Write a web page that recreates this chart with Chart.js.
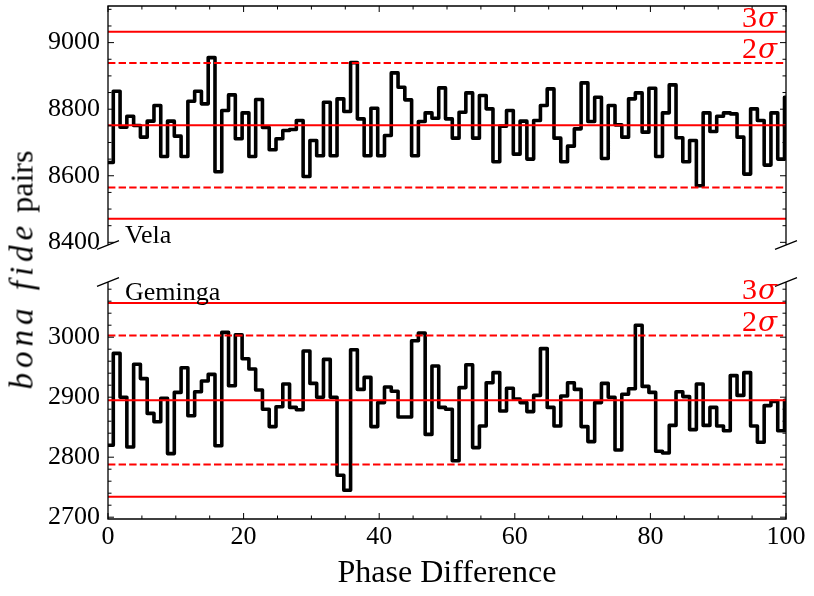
<!DOCTYPE html>
<html>
<head>
<meta charset="utf-8">
<script src="https://cdn.jsdelivr.net/npm/chart.js@4.4.1/dist/chart.umd.min.js"></script>
<style>
html, body { margin:0; padding:0; background:#fff; }
#wrap { position:relative; width:814px; height:596px; overflow:hidden; background:#fff; }
#cTop { position:absolute; left:0; top:0; }
#cBot { position:absolute; left:0; top:270px; }
#ytitle { position:absolute; left:22px; top:270px; transform: translate(-50%,-50%) rotate(-90deg);
  white-space:nowrap; font-family:"Liberation Serif", serif; font-size:32px; color:#000; line-height:1; }
#ytitle i { font-family:"Liberation Serif", serif; font-style:italic; font-size:33px; letter-spacing:5px; }
</style>
</head>
<body>
<div id="wrap">
<canvas id="cTop" width="814" height="270"></canvas>
<canvas id="cBot" width="814" height="326"></canvas>
<div id="ytitle"><i>bona fide</i> pairs</div>
</div>
<script>
// ---- data ----
const phaseEdges = [
  -0.22, 0.78, 1.78, 2.78, 3.78, 4.78, 5.78, 6.78, 7.78, 8.78,
  9.78, 10.78, 11.78, 12.78, 13.78, 14.78, 15.78, 16.78, 17.78, 18.78,
  19.78, 20.78, 21.78, 22.78, 23.78, 24.78, 25.78, 26.78, 27.78, 28.78,
  29.78, 30.78, 31.78, 32.78, 33.78, 34.78, 35.78, 36.78, 37.78, 38.78,
  39.78, 40.78, 41.78, 42.78, 43.78, 44.78, 45.78, 46.78, 47.78, 48.78,
  49.78, 50.78, 51.78, 52.78, 53.78, 54.78, 55.78, 56.78, 57.78, 58.78,
  59.78, 60.78, 61.78, 62.78, 63.78, 64.78, 65.78, 66.78, 67.78, 68.78,
  69.78, 70.78, 71.78, 72.78, 73.78, 74.78, 75.78, 76.78, 77.78, 78.78,
  79.78, 80.78, 81.78, 82.78, 83.78, 84.78, 85.78, 86.78, 87.78, 88.78,
  89.78, 90.78, 91.78, 92.78, 93.78, 94.78, 95.78, 96.78, 97.78, 98.78,
  99.78, 100.78
];
const velaCounts = [
  8640, 8854, 8746, 8779, 8751, 8716, 8764, 8811, 8658, 8764,
  8719, 8658, 8824, 8854, 8816, 8955, 8612, 8796, 8843, 8711,
  8789, 8658, 8829, 8745, 8678, 8711, 8736, 8739, 8766, 8598,
  8706, 8660, 8821, 8660, 8831, 8793, 8940, 8771, 8660, 8803,
  8660, 8721, 8909, 8866, 8828, 8660, 8763, 8789, 8773, 8864,
  8771, 8713, 8791, 8849, 8713, 8841, 8801, 8642, 8749, 8796,
  8665, 8764, 8650, 8766, 8811, 8861, 8713, 8642, 8689, 8741,
  8879, 8763, 8836, 8652, 8811, 8753, 8716, 8831, 8849, 8731,
  8863, 8658, 8789, 8873, 8714, 8642, 8706, 8570, 8789, 8733,
  8779, 8789, 8786, 8716, 8605, 8801, 8766, 8632, 8789, 8650,
  8836
];
const gemingaCounts = [
  2820, 2973, 2900, 2817, 2955, 2931, 2873, 2859, 2898, 2806,
  2908, 2949, 2869, 2909, 2927, 2938, 2819, 3008, 2919, 3004,
  2964, 2947, 2912, 2880, 2851, 2884, 2922, 2883, 2879, 2977,
  2923, 2900, 2963, 2900, 2770, 2745, 2979, 2913, 2933, 2851,
  2891, 2917, 2910, 2867, 2867, 2994, 3007, 2838, 2952, 2883,
  2880, 2794, 2916, 2954, 2816, 2852, 2924, 2941, 2877, 2915,
  2897, 2891, 2876, 2903, 2981, 2883, 2852, 2902, 2924, 2913,
  2851, 2826, 2891, 2923, 2900, 2812, 2905, 2914, 3020, 2918,
  2908, 2810, 2807, 2853, 2909, 2901, 2846, 2922, 2853, 2883,
  2852, 2844, 2936, 2903, 2941, 2852, 2825, 2886, 2893, 2844,
  2895
];
// reference levels: -3σ, -2σ, mean, +2σ, +3σ
const velaLevels = [8471, 8565, 8752, 8939, 9033];
const gemingaLevels = [2734, 2788, 2895, 3003, 3057];
const velaTicks = [8400, 8600, 8800, 9000];
const gemingaTicks = [2700, 2800, 2900, 3000];
const phaseTicks = [0, 20, 40, 60, 80, 100];
const xRange = [0, 100];
const velaRange = [8392, 9110];
const gemingaRange = [2697, 3092];

// ---- helpers ----
const SERIF = '"Liberation Serif", "Times New Roman", serif';
function stepData(counts) {
  const pts = counts.map((c, i) => ({ x: phaseEdges[i], y: c }));
  pts.push({ x: phaseEdges[counts.length], y: counts[counts.length - 1] });
  return pts;
}
function levelDatasets(levels) {
  return levels.map((v, i) => ({
    data: [{ x: xRange[0], y: v }, { x: xRange[1], y: v }],
    borderColor: '#ff0000', borderWidth: 2,
    borderDash: (i === 1 || i === 3) ? [7.4, 3.2] : [],
    pointRadius: 0, order: 0, clip: 0
  }));
}

const panelDeco = {
  id: 'panelDeco',
  afterDraw(chart, args, o) {
    const { ctx, chartArea: a } = chart;
    const xs = chart.scales.x, ys = chart.scales.y;
    ctx.save();
    ctx.strokeStyle = '#000';
    ctx.lineWidth = 1;
    ctx.beginPath();
    for (let v = o.yMinorStart; v <= ys.max; v += o.yMinorStep) {
      if (v < ys.min) continue;
      const py = ys.getPixelForValue(v);
      const len = o.yMajor.includes(v) ? 6 : 3.5;
      ctx.moveTo(a.left, py); ctx.lineTo(a.left + len, py);
      ctx.moveTo(a.right, py); ctx.lineTo(a.right - len, py);
    }
    for (let v = xs.min; v <= xs.max; v += 5) {
      const px = xs.getPixelForValue(v);
      const len = phaseTicks.includes(v) ? 6 : 3.5;
      if (o.edge === 'top') { ctx.moveTo(px, a.top); ctx.lineTo(px, a.top + len); }
      else { ctx.moveTo(px, a.bottom); ctx.lineTo(px, a.bottom - len); }
    }
    ctx.stroke();
    ctx.lineWidth = 1.3;
    ctx.beginPath();
    ctx.moveTo(a.left, a.top); ctx.lineTo(a.left, a.bottom);
    ctx.moveTo(a.right, a.top); ctx.lineTo(a.right, a.bottom);
    if (o.edge === 'top') { ctx.moveTo(a.left - 0.65, a.top); ctx.lineTo(a.right + 0.65, a.top); }
    else { ctx.moveTo(a.left - 0.65, a.bottom); ctx.lineTo(a.right + 0.65, a.bottom); }
    const by = o.edge === 'top' ? a.bottom : a.top;
    [a.left, a.right].forEach(cx => { ctx.moveTo(cx - 11, by + 4.3); ctx.lineTo(cx + 11, by - 4.3); });
    ctx.stroke();
    ctx.fillStyle = '#000';
    ctx.font = '26px ' + SERIF;
    ctx.textAlign = 'left'; ctx.textBaseline = 'alphabetic';
    ctx.fillText(o.name, a.left + 17, o.edge === 'top' ? a.bottom - 2 : a.top + 18);
    ctx.fillStyle = '#ff0000';
    o.sigma.forEach(s => {
      const py = ys.getPixelForValue(s.level) - 4.5;
      ctx.font = 'italic 28px "DejaVu Serif", serif';
      ctx.textAlign = 'right';
      ctx.fillText('\u03c3', a.right - 9, py);
      const w = ctx.measureText('\u03c3').width;
      ctx.font = '30px ' + SERIF;
      ctx.fillText(s.txt, a.right - 9 - w - 1, py);
    });
    ctx.restore();
  }
};

function yScale(range, ticks) {
  return {
    type: 'linear', min: range[0], max: range[1],
    grid: { display: false, drawTicks: false }, border: { display: false },
    ticks: { font: { family: SERIF, size: 26 }, color: '#000', padding: 8, callback: v => String(v) },
    afterBuildTicks: s => { s.ticks = ticks.map(v => ({ value: v })); },
    afterFit: s => { s.width = 108; s.paddingTop = 0; s.paddingBottom = 0; }
  };
}

function makeChart(id, counts, levels, range, ticks, isTop) {
  const datasets = levelDatasets(levels);
  datasets.push({
    data: stepData(counts), stepped: true, borderColor: '#000', borderWidth: 3.6,
    borderJoinStyle: 'round', pointRadius: 0, fill: false, order: 1, clip: 0
  });
  const xScale = isTop ? { type: 'linear', min: xRange[0], max: xRange[1], display: false } : {
    type: 'linear', min: xRange[0], max: xRange[1],
    grid: { display: false, drawTicks: false }, border: { display: false },
    ticks: { font: { family: SERIF, size: 26 }, color: '#000', padding: 3, autoSkip: false, maxRotation: 0,
      callback: v => String(v) },
    afterBuildTicks: s => { s.ticks = phaseTicks.map(v => ({ value: v })); },
    title: { display: true, text: 'Phase Difference', color: '#000', font: { family: SERIF, size: 32 },
      padding: { top: 0, bottom: 3 } },
    afterFit: s => { s.height = 77; s.paddingLeft = 0; s.paddingRight = 0; }
  };
  return new Chart(document.getElementById(id), {
    type: 'line',
    data: { datasets },
    options: {
      responsive: false, animation: false,
      layout: { padding: isTop ? { top: 6, right: 28, bottom: 25, left: 0 } : { top: 12, right: 28, bottom: 0, left: 0 } },
      plugins: {
        legend: { display: false }, tooltip: { enabled: false },
        panelDeco: {
          edge: isTop ? 'top' : 'bottom',
          name: isTop ? 'Vela' : 'Geminga',
          yMinorStart: ticks[0], yMinorStep: isTop ? 50 : 20, yMajor: ticks,
          sigma: [{ txt: '3', level: levels[4] }, { txt: '2', level: levels[3] }]
        }
      },
      scales: { x: xScale, y: yScale(range, ticks) }
    },
    plugins: [panelDeco]
  });
}

makeChart('cTop', velaCounts, velaLevels, velaRange, velaTicks, true);
makeChart('cBot', gemingaCounts, gemingaLevels, gemingaRange, gemingaTicks, false);
</script>
</body>
</html>
